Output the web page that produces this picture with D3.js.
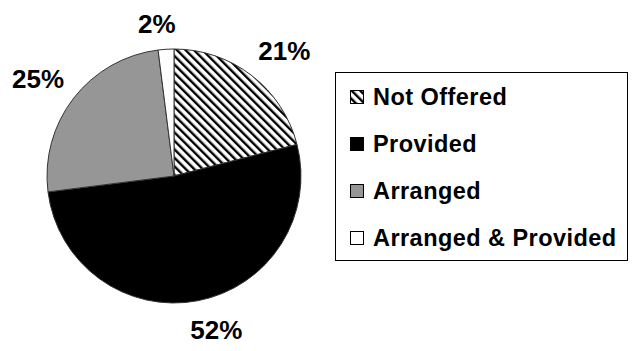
<!DOCTYPE html>
<html><head><meta charset="utf-8">
<script src="https://cdn.jsdelivr.net/npm/d3@7"></script>
<style>body{margin:0;background:#fff}svg{display:block}</style>
</head><body>
<script>
const categories = ["Not Offered", "Provided", "Arranged", "Arranged & Provided"];
const values = [21, 52, 25, 2];
const labels = ["21%", "52%", "25%", "2%"];
const fills = ["url(#hatch)", "#000000", "#969696", "#ffffff"];

const W = 642, H = 351;
const svg = d3.select("body").append("svg").attr("width", W).attr("height", H);
const defs = svg.append("defs");
const pat = defs.append("pattern").attr("id", "hatch").attr("patternUnits", "userSpaceOnUse")
  .attr("width", 6).attr("height", 6).attr("patternTransform", "rotate(-45)");
pat.append("rect").attr("width", 6).attr("height", 6).attr("fill", "#fff");
pat.append("rect").attr("x", 0).attr("width", 2.4).attr("height", 6).attr("fill", "#000");

const cx = 174, cy = 176, R = 127;
const pie = d3.pie().sort(null).value(d => d);
const arcs = pie(values);
const arc = d3.arc().innerRadius(0).outerRadius(R);
const g = svg.append("g").attr("transform", `translate(${cx},${cy})`);
g.selectAll("path").data(arcs).join("path")
  .attr("d", arc).attr("fill", (d, i) => fills[i])
  .attr("stroke", "#333").attr("stroke-width", 1);

// label placement: centroid on an outer ring, with small style nudges (Excel-like best fit)
const labelArc = d3.arc().innerRadius(R + 35).outerRadius(R + 35);
const nudge = [[11, 3], [12, -5], [-8, 2], [-7, 9]];
g.selectAll("text").data(arcs).join("text")
  .attr("x", (d, i) => labelArc.centroid(d)[0] + nudge[i][0])
  .attr("y", (d, i) => labelArc.centroid(d)[1] + nudge[i][1])
  .attr("text-anchor", "middle").attr("dy", "0.36em")
  .attr("font-family", "Liberation Sans, Arial, sans-serif").attr("font-weight", "bold")
  .attr("font-size", 26).attr("fill", "#000")
  .text((d, i) => labels[i]);

// legend
const lg = svg.append("g");
lg.append("rect").attr("x", 335.5).attr("y", 72.5).attr("width", 292).attr("height", 188)
  .attr("fill", "#fff").attr("stroke", "#000").attr("stroke-width", 1);
const rowY = d3.scalePoint().domain(categories).range([97, 238]);
const items = lg.selectAll("g.it").data(categories).join("g").attr("class", "it")
  .attr("transform", d => `translate(0,${rowY(d)})`);
items.append("rect").attr("x", 350.5).attr("y", -6.5).attr("width", 13).attr("height", 13)
  .attr("fill", (d, i) => fills[i]).attr("stroke", "#000").attr("stroke-width", 1);
items.append("text").attr("x", 373).attr("y", 0).attr("dy", "0.36em")
  .attr("font-family", "Liberation Sans, Arial, sans-serif").attr("font-weight", "bold")
  .attr("font-size", 23.5).attr("letter-spacing", 0.45).attr("fill", "#000").text(d => d);
</script>
</body></html>
